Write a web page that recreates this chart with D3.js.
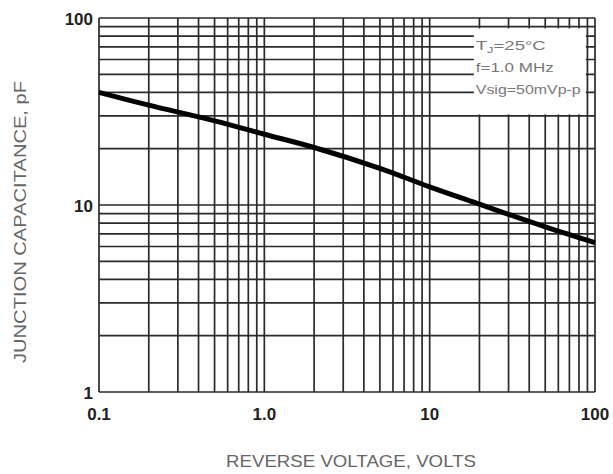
<!DOCTYPE html>
<html>
  <head>
    <meta charset="utf-8">
    <title>Junction capacitance</title>
    <script src="https://cdn.jsdelivr.net/npm/d3@7"></script>
    <style>
      body { margin: 0; background: #fff; }
      svg { display: block; font-family: "Liberation Sans", Arial, sans-serif; }
    </style>
  </head>

  <body>
    <svg id="chart" width="613" height="474"></svg>

    <script>
      // data
      const voltage = [0.1, 0.2, 0.5, 1, 2, 5, 10, 20, 50, 100];
      const capacitance = [40, 34.2, 28.2, 23.9, 20.3, 15.7, 12.5, 10.1, 7.65, 6.3];

      const xTickLabels = ["0.1", "1.0", "10", "100"];
      const yTickLabels = ["1", "10", "100"];
      // each condition line as [text, subscript, rest]
      const conditions = [["T", "J", "=25\u00b0C"], ["f=1.0 MHz", "", ""], ["Vsig=50mVp-p", "", ""]];

      const margin = {top: 18, right: 18, bottom: 82, left: 99};
      const width = 613, height = 474;

      const chart = d3.select("#chart");

      const x = d3.scaleLog()
          .domain([0.1, 100])
          .range([margin.left, width - margin.right]);

      const y = d3.scaleLog()
          .domain([1, 100])
          .range([height - margin.bottom, margin.top]);

      // grid values 1,2..9 for every decade
      function logGrid(lo, hi) {
        const out = [];
        for (let d = lo; d < hi; d *= 10) {
          for (let k = 1; k <= 9; k++) out.push(d * k);
        }
        out.push(hi);
        return out;
      }

      const grid = chart.append("g")
          .attr("stroke", "#2a2a2a")
          .attr("stroke-width", 1.7);

      grid.selectAll(".vline")
        .data(logGrid(0.1, 100))
        .join("line")
          .attr("x1", d => x(d)).attr("x2", d => x(d))
          .attr("y1", y(100)).attr("y2", y(1));

      grid.selectAll(".hline")
        .data(logGrid(1, 100))
        .join("line")
          .attr("x1", x(0.1)).attr("x2", x(100))
          .attr("y1", d => y(d)).attr("y2", d => y(d));

      // conditions box hides the grid behind it
      chart.append("rect")
          .attr("x", x(18.5))
          .attr("y", y(88))
          .attr("width", x(88) - x(18.5))
          .attr("height", y(30.5) - y(88))
          .attr("fill", "#fff");

      const cond = chart.append("g")
          .attr("fill", "#777")
          .attr("font-size", 13)
        .selectAll("text")
        .data(conditions)
        .join("text")
          .attr("x", x(19))
          .attr("y", (d, i) => 50 + i * 22);

      cond.each(function(d, i) {
        const t = d3.select(this);
        t.append("tspan").text(d[0]);
        if (d[1]) {
          t.append("tspan").attr("font-size", 9).attr("dy", 3).text(d[1]);
          t.append("tspan").attr("dy", -3).text(d[2]);
        }
        t.attr("textLength", [70, 78, 105][i])
         .attr("lengthAdjust", "spacingAndGlyphs");
      });

      // curve
      const line = d3.line()
          .x((d, i) => x(voltage[i]))
          .y(d => y(d))
          .curve(d3.curveCatmullRom);

      chart.append("path")
          .attr("d", line(capacitance))
          .attr("fill", "none")
          .attr("stroke", "#000")
          .attr("stroke-width", 5)
          .attr("stroke-linecap", "butt");

      // tick labels
      chart.append("g")
          .attr("font-size", 17)
          .attr("font-weight", "bold")
          .attr("fill", "#222")
          .attr("text-anchor", "middle")
        .selectAll("text")
        .data(xTickLabels)
        .join("text")
          .attr("x", d => x(+d))
          .attr("y", 420)
          .text(d => d);

      chart.append("g")
          .attr("font-size", 17)
          .attr("font-weight", "bold")
          .attr("fill", "#222")
          .attr("text-anchor", "end")
        .selectAll("text")
        .data(yTickLabels)
        .join("text")
          .attr("x", margin.left - 6)
          .attr("y", d => y(+d) + 2)
          .attr("dy", "0.32em")
          .text(d => d);

      // axis titles
      chart.append("text")
          .attr("x", 351)
          .attr("y", 467)
          .attr("text-anchor", "middle")
          .attr("font-size", 17)
          .attr("fill", "#666")
          .attr("textLength", 250)
          .attr("lengthAdjust", "spacingAndGlyphs")
          .text("REVERSE VOLTAGE, VOLTS");

      chart.append("text")
          .attr("transform", "translate(26, 222) rotate(-90)")
          .attr("text-anchor", "middle")
          .attr("font-size", 16)
          .attr("fill", "#666")
          .attr("textLength", 282)
          .attr("lengthAdjust", "spacingAndGlyphs")
          .text("JUNCTION CAPACITANCE, pF");
    </script>
  </body>
</html>
